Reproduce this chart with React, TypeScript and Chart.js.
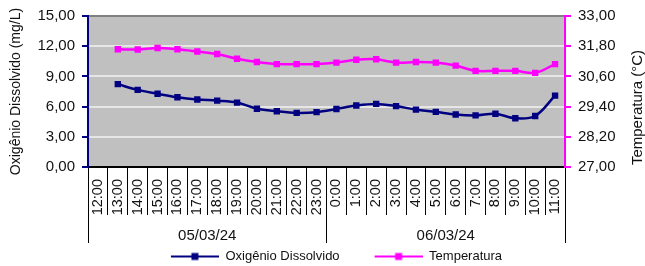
import React, { useEffect, useRef } from 'react';
import { Chart, registerables } from 'chart.js';

Chart.register(...registerables);

const hourLabels = [
  '12:00', '13:00', '14:00', '15:00', '16:00', '17:00', '18:00', '19:00', '20:00', '21:00', '22:00', '23:00',
  '0:00', '1:00', '2:00', '3:00', '4:00', '5:00', '6:00', '7:00', '8:00', '9:00', '10:00', '11:00',
];
const dateLabels = ['05/03/24', '06/03/24'];

const oxygenValues = [
  null, 8.23, 7.66, 7.28, 6.93, 6.71, 6.59, 6.4, 5.79, 5.54, 5.38, 5.45,
  5.76, 6.11, 6.27, 6.05, 5.7, 5.48, 5.22, 5.13, 5.29, 4.84, 5.07, 7.09,
];
const temperatureValues = [
  null, 31.68, 31.67, 31.73, 31.68, 31.59, 31.49, 31.3, 31.17, 31.09, 31.09, 31.09,
  31.15, 31.26, 31.28, 31.15, 31.17, 31.15, 31.03, 30.82, 30.82, 30.82, 30.74, 31.09,
];

const FONT = "'Liberation Sans', Arial, sans-serif";
const NAVY = '#000080';
const MAGENTA = '#FF00FF';
const TEXT = '#111111';

const comma = (v: any) => Number(v).toFixed(2).replace('.', ',');

function legendSwatch(color: string) {
  const c = document.createElement('canvas');
  c.width = 76;
  c.height = 10;
  const g = c.getContext('2d')!;
  g.strokeStyle = color;
  g.lineWidth = 2;
  g.beginPath();
  g.moveTo(28, 5);
  g.lineTo(76, 5);
  g.stroke();
  g.fillStyle = color;
  g.fillRect(52 - 3.5, 5 - 3.5, 7, 7);
  return c;
}

export default function App() {
  const ref = useRef<HTMLCanvasElement | null>(null);

  useEffect(() => {
    if (!ref.current) return;
    const swatches = [legendSwatch(NAVY), legendSwatch(MAGENTA)];

    const plotBg = {
      id: 'plotBg',
      beforeDraw(chart: any) {
        const { ctx, chartArea: a } = chart;
        ctx.save();
        ctx.fillStyle = '#C0C0C0';
        ctx.fillRect(a.left, a.top, a.right - a.left, a.bottom - a.top);
        ctx.restore();
      },
    };

    const rightTitle = {
      id: 'rightTitle',
      afterDraw(chart: any) {
        const s = chart.scales.y1;
        const ctx = chart.ctx;
        ctx.save();
        ctx.translate(s.right - 7, (s.top + s.bottom) / 2 + 16);
        ctx.rotate(-Math.PI / 2);
        ctx.font = `15px ${FONT}`;
        ctx.fillStyle = TEXT;
        ctx.textAlign = 'center';
        ctx.textBaseline = 'middle';
        ctx.fillText('Temperatura (°C)', 0, 0);
        ctx.restore();
      },
    };

    const chart = new Chart(ref.current, {
      type: 'line',
      data: {
        labels: hourLabels,
        datasets: [
          {
            label: 'Oxigênio Dissolvido',
            data: oxygenValues,
            xAxisID: 'x',
            yAxisID: 'y',
            borderColor: NAVY,
            backgroundColor: NAVY,
            borderWidth: 2.5,
            pointStyle: 'rect',
            pointRadius: 4.5,
            pointBorderWidth: 0,
            tension: 0.35,
          },
          {
            label: 'Temperatura',
            data: temperatureValues,
            xAxisID: 'x',
            yAxisID: 'y1',
            borderColor: MAGENTA,
            backgroundColor: MAGENTA,
            borderWidth: 2.5,
            pointStyle: 'rect',
            pointRadius: 4.5,
            pointBorderWidth: 0,
            tension: 0.35,
          },
        ],
      },
      options: {
        animation: false,
        responsive: false,
        layout: { padding: { top: 9, bottom: -7, left: 0, right: 0 } },
        plugins: {
          legend: {
            position: 'bottom',
            labels: {
              usePointStyle: true,
              pointStyleWidth: 76,
              padding: 7,
              color: TEXT,
              font: { family: FONT, size: 13 },
              generateLabels: (c: any) =>
                (Chart.defaults.plugins.legend.labels as any)
                  .generateLabels(c)
                  .map((it: any, i: number) => ({ ...it, pointStyle: swatches[i] })),
            },
          },
          tooltip: { enabled: false },
        },
        scales: {
          x: {
            type: 'category',
            position: 'bottom',
            offset: true,
            grid: { offset: true, drawOnChartArea: false, tickLength: 48, color: '#000', lineWidth: 1 },
            border: { color: '#000', width: 1.5 },
            ticks: {
              minRotation: 90,
              maxRotation: 90,
              autoSkip: false,
              padding: -36,
              color: TEXT,
              font: { family: FONT, size: 14.5 },
            },
            afterFit: (s: any) => {
              s.height = 48;
            },
          },
          x2: {
            type: 'category',
            position: 'bottom',
            labels: dateLabels,
            offset: true,
            grid: { offset: true, drawOnChartArea: false, tickLength: 28, color: '#000', lineWidth: 1 },
            border: { display: false },
            ticks: { padding: -16, color: TEXT, font: { family: FONT, size: 15 } },
            afterFit: (s: any) => {
              s.height = 28;
            },
          },
          y: {
            position: 'left',
            min: 0,
            max: 15,
            ticks: { stepSize: 3, callback: comma, padding: 7, color: TEXT, font: { family: FONT, size: 15 } },
            grid: {
              color: (ctx: any) =>
                ctx.tick && ctx.tick.value === 15 ? '#808080' : ctx.tick && ctx.tick.value === 0 ? '#000' : '#E6E6E6',
              lineWidth: 2,
              tickLength: 6,
              tickColor: NAVY,
            },
            border: { color: NAVY, width: 2 },
            title: {
              display: true,
              text: 'Oxigênio Dissolvido (mg/L)',
              color: TEXT,
              font: { family: FONT, size: 14 },
              padding: { top: 8, bottom: 0 },
            },
            afterFit: (s: any) => {
              s.width = 88;
            },
          },
          y1: {
            position: 'right',
            min: 27,
            max: 33,
            ticks: { stepSize: 1.2, callback: comma, padding: 7, color: TEXT, font: { family: FONT, size: 15 } },
            grid: { drawOnChartArea: false, tickLength: 6, color: MAGENTA, lineWidth: 2 },
            border: { color: MAGENTA, width: 2 },
            afterFit: (s: any) => {
              s.width = 80;
            },
          },
        },
      } as any,
      plugins: [plotBg, rightTitle],
    });

    return () => chart.destroy();
  }, []);

  return (
    <div style={{ position: 'absolute', left: 0, top: 0, width: 645, height: 266, background: '#fff' }}>
      <canvas ref={ref} width={645} height={266} />
    </div>
  );
}
